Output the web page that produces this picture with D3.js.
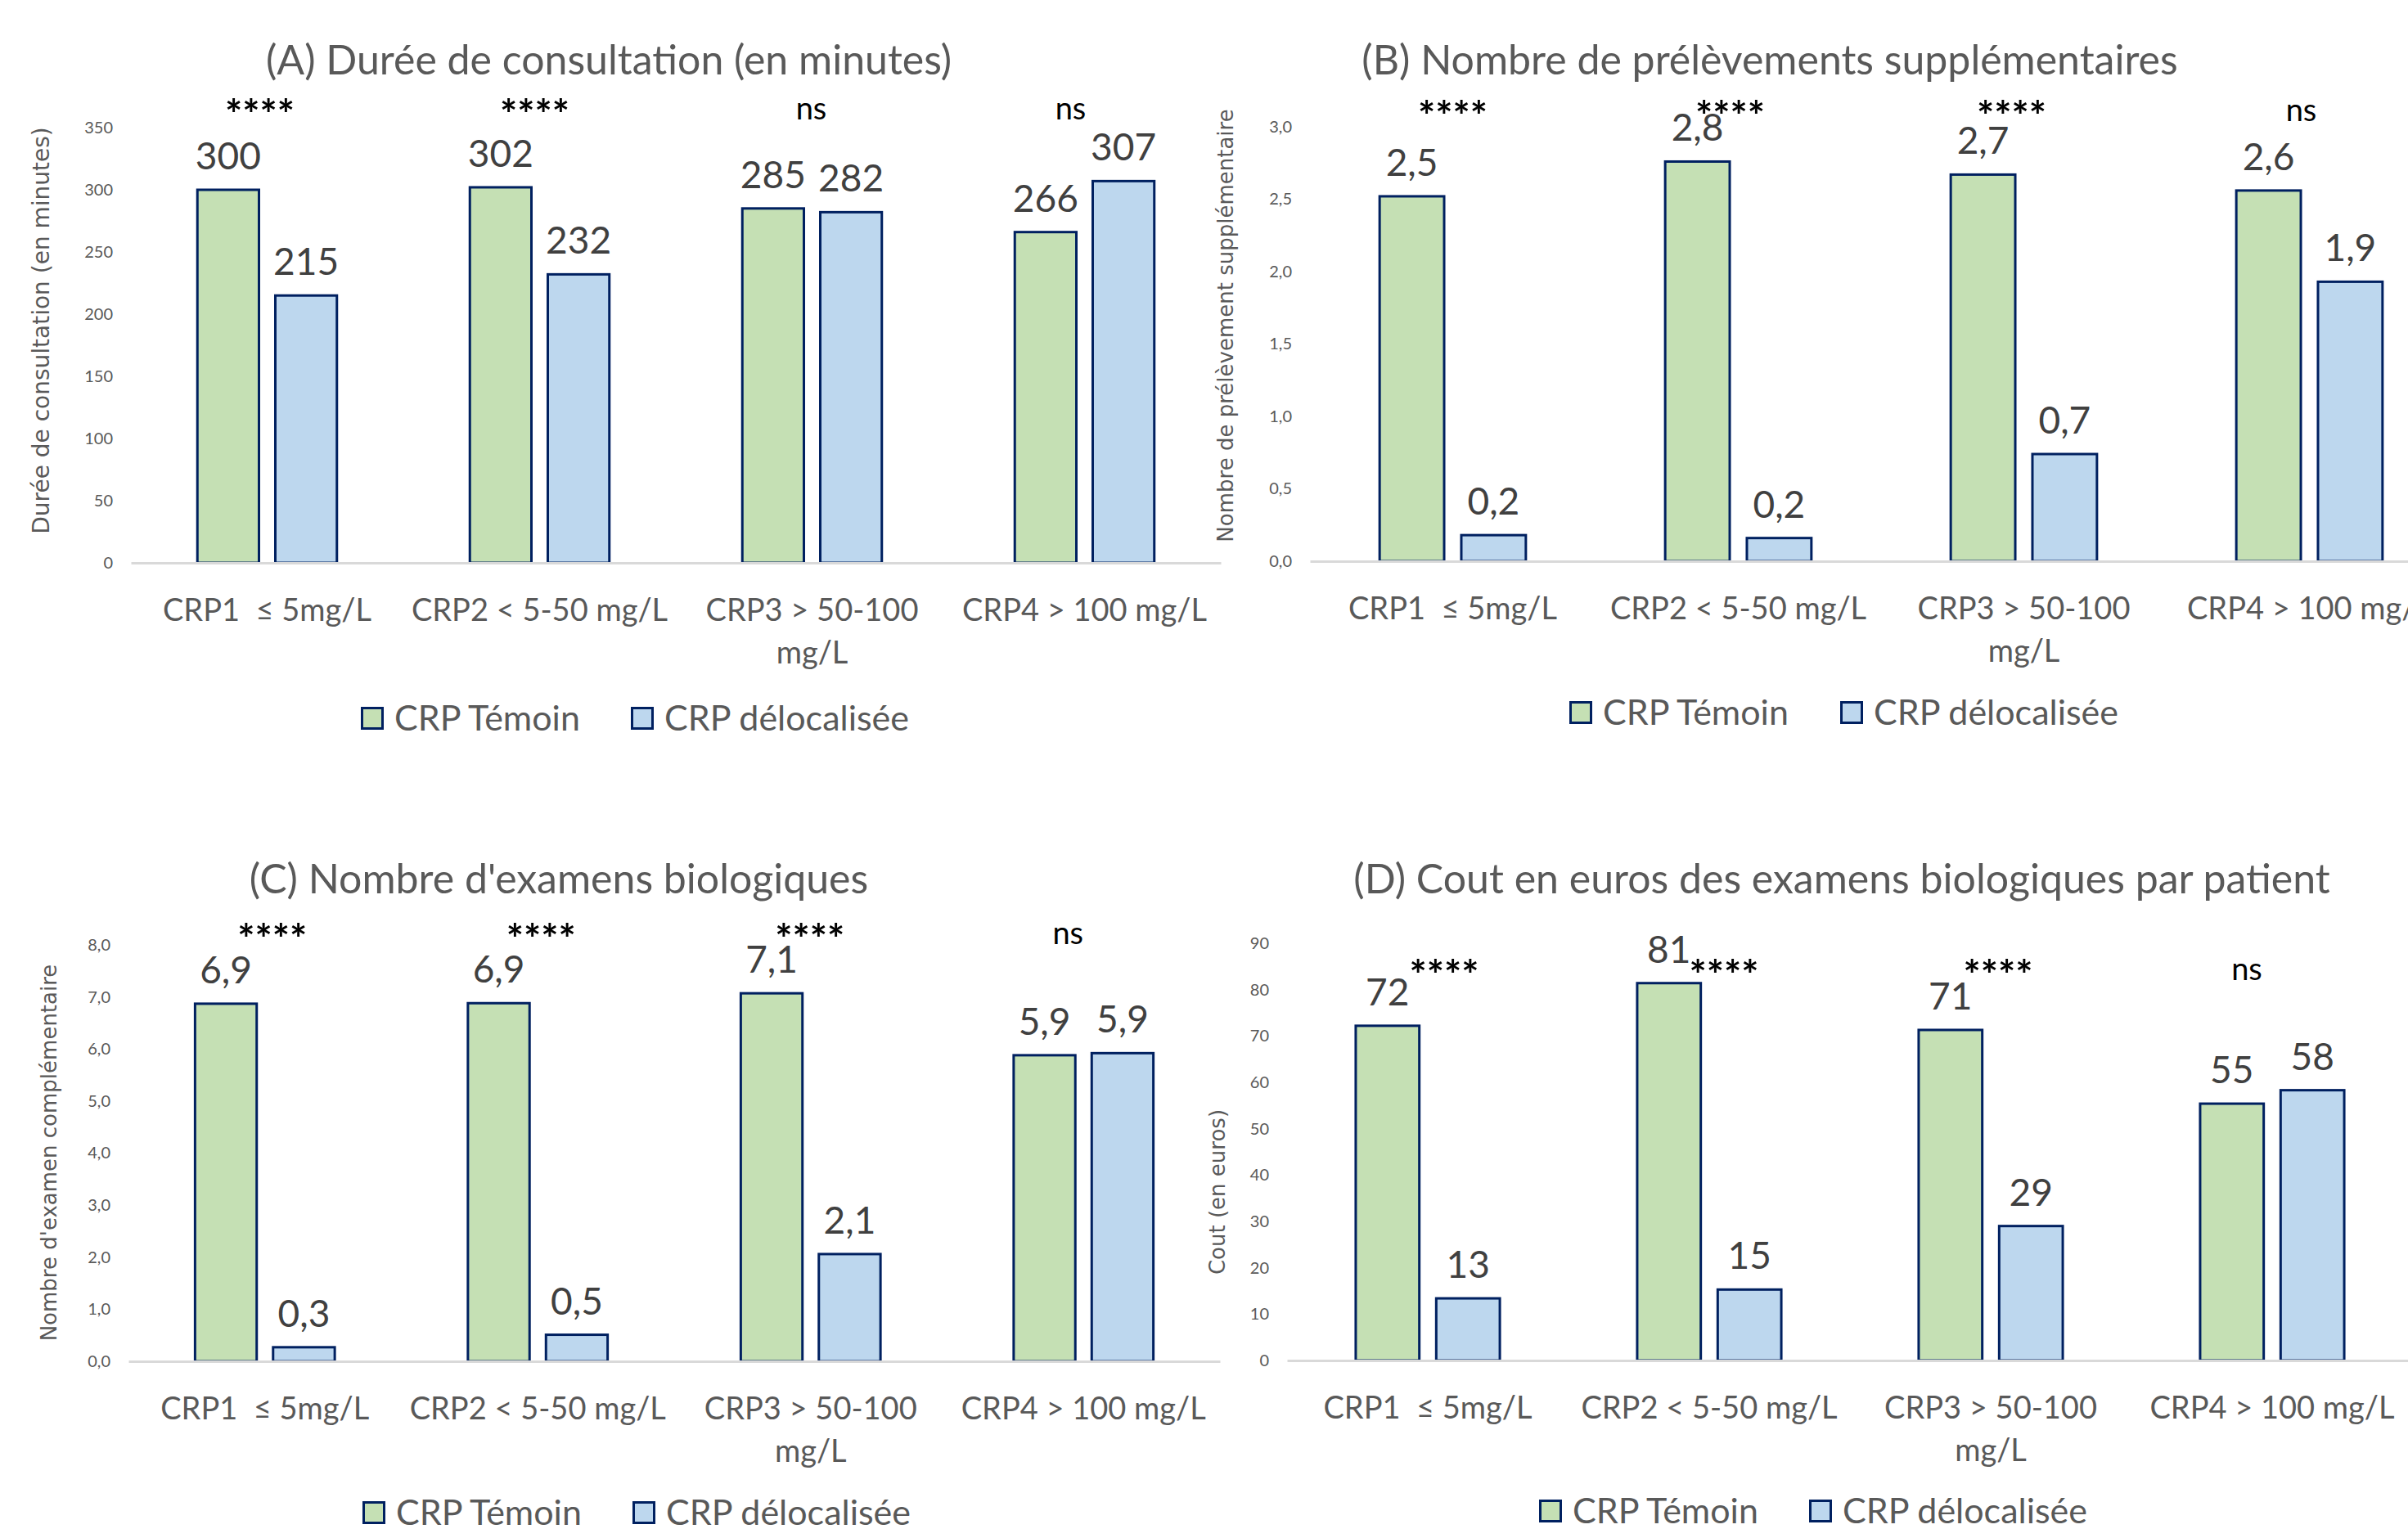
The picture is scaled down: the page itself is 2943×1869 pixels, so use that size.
<!DOCTYPE html>
<html>
<head>
<meta charset="utf-8">
<script src="https://cdn.jsdelivr.net/npm/d3@7"></script>
<style>
  body { margin: 0; background: #fff; overflow: hidden; }
  svg { display: block; }
  text { font-family: Lato, "Open Sans", sans-serif; }
</style>
</head>
<body>
<svg id="chart"></svg>
<script>
// categories, series and tick labels
const categories = ["CRP1  ≤ 5mg/L", "CRP2 < 5-50 mg/L", "CRP3 > 50-100 mg/L", "CRP4 > 100 mg/L"];
const categoryLines = [["CRP1  ≤ 5mg/L"], ["CRP2 < 5-50 mg/L"], ["CRP3 > 50-100", "mg/L"], ["CRP4 > 100 mg/L"]];
const series = ["CRP Témoin", "CRP délocalisée"];

// (A) duree de consultation
const dureeTemoin = [300, 302, 285, 266];
const dureeDeloc = [215, 232, 282, 307];
const dureeSignif = ["****", "****", "ns", "ns"];
const dureeTicks = [0, 50, 100, 150, 200, 250, 300, 350];

// (B) prelevements supplementaires
const prelevTemoin = [2.52, 2.76, 2.67, 2.56];
const prelevDeloc = [0.18, 0.16, 0.74, 1.93];
const prelevSignif = ["****", "****", "****", "ns"];
const prelevTicks = [0, 0.5, 1, 1.5, 2, 2.5, 3];

// (C) examens biologiques
const examTemoin = [6.87, 6.88, 7.07, 5.88];
const examDeloc = [0.27, 0.51, 2.06, 5.92];
const examSignif = ["****", "****", "****", "ns"];
const examTicks = [0, 1, 2, 3, 4, 5, 6, 7, 8];

// (D) cout des examens
const coutTemoin = [72.2, 81.4, 71.3, 55.4];
const coutDeloc = [13.4, 15.3, 29.0, 58.3];
const coutSignif = ["****", "****", "****", "ns"];
const coutTicks = [0, 10, 20, 30, 40, 50, 60, 70, 80, 90];

const W = 2943, H = 1869;
const fr = d3.formatLocale({decimal: ",", thousands: "\u00a0", grouping: [3], currency: ["", " €"]});
const fmtInt = fr.format(".0f");
const fmtDec = fr.format(".1f");

const colors = ["#C5E0B4", "#BDD7EE"];
const edge = "#002060";

const panels = [
    {title: "(A) Durée de consultation (en minutes)", yTitle: "Durée de consultation (en minutes)",
     temoin: dureeTemoin, deloc: dureeDeloc, signif: dureeSignif, ticks: dureeTicks, fmt: fmtInt,
     left: 160, right: 1492, y0: 688, y1: 156, titleX: 744, titleY: 91, yTitleX: 50, yTitleY: 404, yTitleSize: 28,
     signifDx: [-9, -6, -1, -17], signifY: 146, legendX: [441, 771], legendY: 878},
    {title: "(B) Nombre de prélèvements supplémentaires", yTitle: "Nombre de prélèvement supplémentaire",
     temoin: prelevTemoin, deloc: prelevDeloc, signif: prelevSignif, ticks: prelevTicks, fmt: fmtDec,
     left: 1601, right: 2997, y0: 686, y1: 155, titleX: 2163, titleY: 91, yTitleX: 1498, yTitleY: 398, yTitleSize: 26,
     signifDx: [0, -10, -15, -10], signifY: 148, legendX: [1918, 2249], legendY: 871},
    {title: "(C) Nombre d'examens biologiques", yTitle: "Nombre d'examen complémentaire",
     temoin: examTemoin, deloc: examDeloc, signif: examSignif, ticks: examTicks, fmt: fmtDec,
     left: 157, right: 1491, y0: 1664, y1: 1155, titleX: 683, titleY: 1092, yTitleX: 60, yTitleY: 1409, yTitleSize: 26,
     signifDx: [9, 4, -1, -19], signifY: 1154, legendX: [443, 773], legendY: 1849},
    {title: "(D) Cout en euros des examens biologiques par patient", yTitle: "Cout (en euros)",
     temoin: coutTemoin, deloc: coutDeloc, signif: coutSignif, ticks: coutTicks, fmt: fmtInt,
     left: 1573, right: 2949, y0: 1663, y1: 1153, titleX: 2251, titleY: 1092, yTitleX: 1488, yTitleY: 1457, yTitleSize: 26,
     signifDx: [20, 18, 9, -31], signifY: 1198, legendX: [1881, 2211], legendY: 1847}
];

const svg = d3.select("#chart").attr("width", W).attr("height", H);
svg.append("rect").attr("width", W).attr("height", H).attr("fill", "#fff");

panels.forEach(drawPanel);

function drawPanel(p) {
    const g = svg.append("g");

    const x0 = d3.scaleBand().domain(categories).range([p.left, p.right])
        .paddingInner(0.488).paddingOuter(0.244);
    const x1 = d3.scaleBand().domain(series).range([0, x0.bandwidth()]).paddingInner(0.21);
    const y = d3.scaleLinear().domain([p.ticks[0], p.ticks[p.ticks.length - 1]]).range([p.y0, p.y1]);

    // title
    g.append("text")
        .attr("x", p.titleX).attr("y", p.titleY)
        .attr("text-anchor", "middle")
        .attr("fill", "#595959")
        .style("font-size", "50px")
        .text(p.title);

    // y axis
    const yAxis = g.append("g")
        .attr("transform", "translate(" + p.left + ",0)")
        .call(d3.axisLeft(y).tickValues(p.ticks).tickFormat(p.fmt).tickSize(0).tickPadding(22));
    yAxis.select(".domain").remove();
    yAxis.selectAll("text")
        .attr("fill", "#595959")
        .style("font-size", "20px")
        .style("font-family", "Lato, sans-serif");

    g.append("text")
        .attr("transform", "translate(" + p.yTitleX + "," + p.yTitleY + ") rotate(-90)")
        .attr("text-anchor", "middle")
        .attr("dy", "0.35em")
        .attr("fill", "#595959")
        .style("font-family", "'DejaVu Sans', sans-serif")
        .style("font-size", p.yTitleSize + "px")
        .text(p.yTitle);

    const rows = categories.map((c, i) => ({cat: c, vals: [p.temoin[i], p.deloc[i]]}));

    const groups = g.selectAll(".grp")
        .data(rows)
        .enter()
        .append("g")
        .attr("class", "grp")
        .attr("transform", d => "translate(" + x0(d.cat) + ",0)");

    // bars
    groups.selectAll("rect")
        .data(d => d.vals.map((v, k) => ({s: series[k], v: v, k: k})))
        .enter()
        .append("rect")
        .attr("x", d => x1(d.s))
        .attr("width", x1.bandwidth())
        .attr("y", d => y(d.v))
        .attr("height", d => y(0) - y(d.v))
        .attr("fill", d => colors[d.k])
        .attr("stroke", edge)
        .attr("stroke-width", 3);

    // value labels
    groups.selectAll(".val")
        .data(d => d.vals.map((v, k) => ({s: series[k], v: v})))
        .enter()
        .append("text")
        .attr("class", "val")
        .attr("x", d => x1(d.s) + x1.bandwidth() / 2)
        .attr("y", d => y(d.v) - 25)
        .attr("text-anchor", "middle")
        .attr("fill", "#404040")
        .style("font-size", "46px")
        .text(d => p.fmt(d.v));

    // significance marks
    g.selectAll(".sig")
        .data(p.signif)
        .enter()
        .append("text")
        .attr("class", "sig")
        .attr("x", (d, i) => x0(categories[i]) + x0.bandwidth() / 2 + p.signifDx[i])
        .attr("y", d => d === "ns" ? p.signifY : p.signifY + 12)
        .attr("text-anchor", "middle")
        .attr("fill", "#000")
        .style("font-size", d => d === "ns" ? "38px" : "50px")
        .style("font-weight", d => d === "ns" ? "normal" : "bold")
        .text(d => d);

    // x axis (baseline + category labels)
    const xAxis = g.append("g")
        .attr("transform", "translate(0," + p.y0 + ")")
        .call(d3.axisBottom(x0).tickSize(0).tickSizeOuter(0).tickFormat(""));
    xAxis.select(".domain")
        .attr("stroke", "#d9d9d9")
        .attr("stroke-width", 3);
    xAxis.selectAll(".tick text").remove();
    xAxis.selectAll(".tick")
        .append("text")
        .attr("y", 71)
        .attr("text-anchor", "middle")
        .attr("fill", "#595959")
        .style("font-size", "38px")
        .style("white-space", "pre")
        .each(function (d) {
            const lines = categoryLines[categories.indexOf(d)];
            const t = d3.select(this);
            lines.forEach((ln, j) => {
                t.append("tspan").attr("x", 0).attr("dy", j === 0 ? 0 : 52).text(ln);
            });
        });

    // legend
    const leg = g.selectAll(".leg")
        .data(series)
        .enter()
        .append("g")
        .attr("class", "leg")
        .attr("transform", (d, i) => "translate(" + p.legendX[i] + "," + p.legendY + ")");
    leg.append("rect")
        .attr("x", 1.5).attr("y", -12.5)
        .attr("width", 25).attr("height", 25)
        .attr("fill", (d, i) => colors[i])
        .attr("stroke", edge)
        .attr("stroke-width", 3);
    leg.append("text")
        .attr("x", 41).attr("y", 15)
        .attr("fill", "#595959")
        .style("font-size", "43px")
        .text(d => d);
}
</script>
</body>
</html>
